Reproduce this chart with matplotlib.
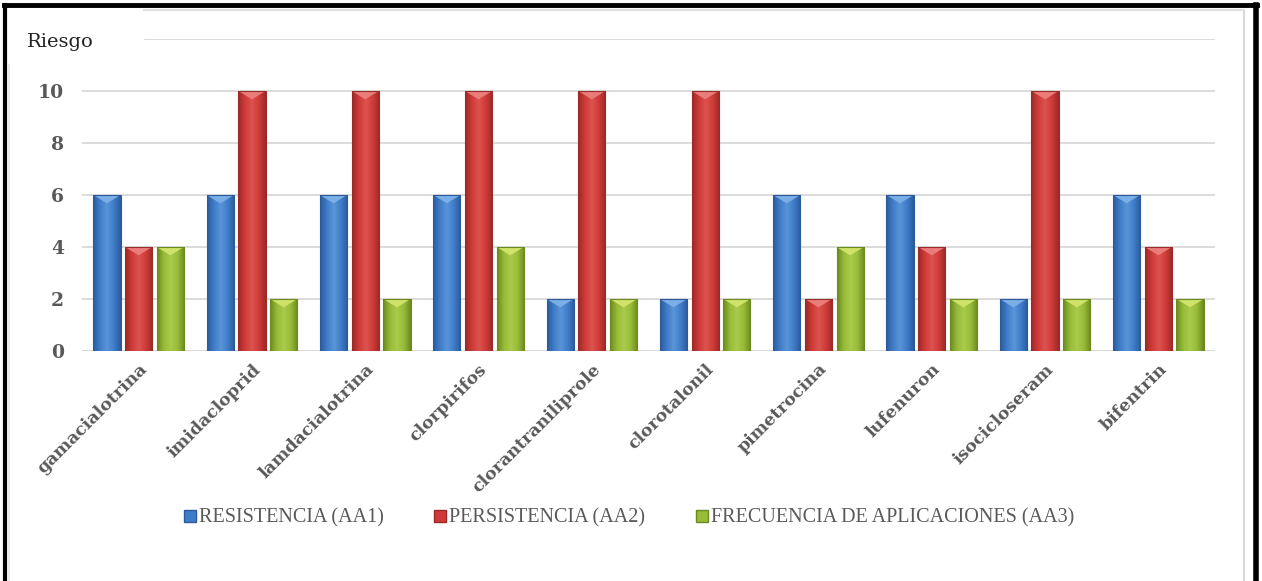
import numpy as np
import matplotlib.pyplot as plt
from matplotlib.patches import Polygon, Rectangle
from matplotlib.colors import LinearSegmentedColormap
from matplotlib.lines import Line2D

# pesticide risk scores
productos = ["gamacialotrina", "imidacloprid", "lamdacialotrina", "clorpirifos",
             "clorantraniliprole", "clorotalonil", "pimetrocina", "lufenuron",
             "isocicloseram", "bifentrin"]
resistencia = [6, 6, 6, 6, 2, 2, 6, 6, 2, 6]
persistencia = [4, 10, 10, 10, 10, 10, 2, 4, 10, 4]
frecuencia = [4, 2, 2, 4, 2, 2, 4, 2, 2, 2]
series_names = ["RESISTENCIA (AA1)", "PERSISTENCIA (AA2)", "FRECUENCIA DE APLICACIONES (AA3)"]
yticks = [0, 2, 4, 6, 8, 10]

# (edge, mid, highlight, top-facet) per series
palettes = [
    ("#2b5b9c", "#3f7dc9", "#5a95d8", "#79aee6"),
    ("#9b2a28", "#cf3b38", "#dc5350", "#ea7d79"),
    ("#6b8a1f", "#98bb38", "#aacb4c", "#cfe36a"),
]

GRAY = "#595959"
GRID = "#d9d9d9"
SERIF = ["Liberation Serif", "DejaVu Serif"]
SLAB = ["DejaVu Serif"]

fig = plt.figure(figsize=(12.62, 5.81), dpi=100)
ax = fig.add_axes([82 / 1262, (581 - 351) / 581, (1215 - 82) / 1262, (351 - 39) / 581])

x = np.arange(len(productos))
width = 0.24
step = 0.28
tri_h = 0.32


def bevel_bar(ax, xc, h, cols):
    edge, mid, hi, top = cols
    x0, x1 = xc - width / 2, xc + width / 2
    rect = Rectangle((x0, 0), width, h, facecolor=mid, edgecolor="none", zorder=3)
    ax.add_patch(rect)
    cmap = LinearSegmentedColormap.from_list("b", [edge, mid, hi, mid, edge])
    grad = np.linspace(0, 1, 64).reshape(1, -1)
    im = ax.imshow(grad, cmap=cmap, extent=(x0, x1, 0, h), aspect="auto",
                   zorder=3.5, interpolation="bicubic")
    im.set_clip_path(rect)
    # lighter facet at the top of the bar
    ax.add_patch(Polygon([(x0, h), (x1, h), (xc, h - tri_h)], closed=True,
                         facecolor=top, edgecolor="none", zorder=4))
    ax.add_patch(Rectangle((x0, 0), width, h, facecolor="none", edgecolor=edge,
                           lw=0.8, zorder=4.5))


for k, vals in enumerate([resistencia, persistencia, frecuencia]):
    for i, v in enumerate(vals):
        bevel_bar(ax, x[i] + (k - 1) * step, v, palettes[k])

ax.set_xlim(-0.5, len(productos) - 0.5)
ax.set_ylim(0, 12)
ax.set_yticks(yticks)
ax.set_yticklabels([str(t) for t in yticks], fontsize=13.5, fontweight="bold",
                   color=GRAY, family=SLAB)
ax.yaxis.grid(True, color=GRID, lw=1.3, zorder=0)
ax.set_axisbelow(True)
ax.tick_params(axis="y", length=0, pad=13)
ax.tick_params(axis="x", length=0, pad=7)
ax.set_xticks(x)
ax.set_xticklabels(productos, rotation=45, ha="right", rotation_mode="anchor",
                   fontsize=12.5, fontweight="bold", color=GRAY, family=SLAB)
for s in ax.spines.values():
    s.set_visible(False)
ax.axhline(0, color=GRID, lw=2, zorder=2)
# top gridline starts to the right of the axis title
ax.axhline(12, xmin=(145 - 82) / 1133, color=GRID, lw=1.3, zorder=0)

fig.text(27 / 1262, 1 - 42 / 581, "Riesgo", fontsize=14, color="#222222",
         family=SLAB, va="center", ha="left")

handles = [Line2D([], [], marker="s", ls="none", markersize=9,
                  markerfacecolor=p[1], markeredgecolor=p[0]) for p in palettes]
fig.legend(handles, series_names, loc="center", bbox_to_anchor=(628 / 1262, 1 - 518 / 581),
           ncol=3, frameon=False, handletextpad=0.05, columnspacing=2.4,
           handlelength=0.8, prop={"family": SERIF, "size": 14.5}, labelcolor=GRAY)

# frame around the chart
fig.add_artist(Line2D([1244 / 1262] * 2, [0, 1 - 10 / 581],
                      color=GRID, lw=1.5, transform=fig.transFigure))
fig.add_artist(Line2D([144 / 1262, 1244 / 1262], [1 - 10 / 581] * 2,
                      color="#e0e0e0", lw=1.5, transform=fig.transFigure))
fig.add_artist(Line2D([9 / 1262] * 2, [0, 1 - 65 / 581],
                      color="#e6e6e6", lw=1.2, transform=fig.transFigure))
fig.add_artist(Line2D([5 / 1262, 5 / 1262], [0, 1 - 5 / 581], color="black", lw=3,
                      transform=fig.transFigure))
fig.add_artist(Line2D([4 / 1262, 1257 / 1262], [1 - 5 / 581] * 2, color="black", lw=3.5,
                      transform=fig.transFigure))
fig.add_artist(Line2D([1256 / 1262] * 2, [0, 1 - 5 / 581], color="black", lw=4,
                      transform=fig.transFigure))

fig.savefig("out.png", dpi=100)
